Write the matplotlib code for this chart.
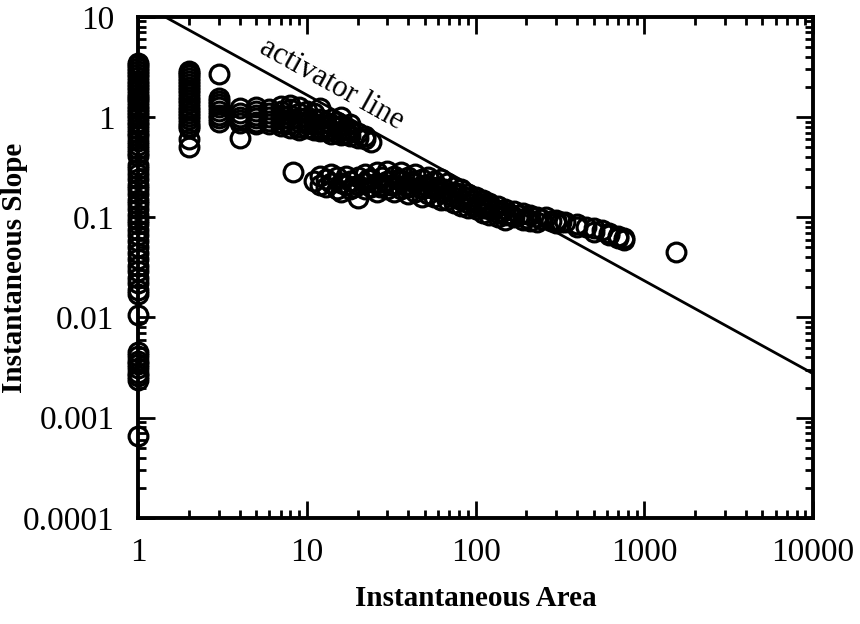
#!/usr/bin/env python3
import numpy as np
import matplotlib.pyplot as plt
from matplotlib.ticker import LogLocator, FixedLocator, FixedFormatter, NullFormatter

plt.rcParams['font.family'] = ['Liberation Serif', 'DejaVu Serif']

# ---- data (area, slope) ----
# column at area = 1
a1_slope = [3.5, 3.3, 3.1, 2.9, 2.7, 2.5, 2.3, 2.15, 2.0, 1.85, 1.7, 1.6, 1.5,
            1.4, 1.3, 1.2, 1.12, 1.05, 0.97, 0.9, 0.83, 0.76, 0.7, 0.64, 0.58,
            0.53, 0.48, 0.44, 0.41, 0.33, 0.3, 0.27, 0.24, 0.21, 0.19, 0.17,
            0.15, 0.135, 0.12, 0.105, 0.095, 0.085, 0.075, 0.066, 0.058, 0.05,
            0.044, 0.038, 0.033, 0.029, 0.025, 0.022, 0.019, 0.017, 0.0105,
            0.0045, 0.0041, 0.0037, 0.0034, 0.0031, 0.0028, 0.0026, 0.0024,
            0.00065]
# column at area = 2
a2_slope = [2.9, 2.75, 2.6, 2.45, 2.3, 2.15, 2.0, 1.85, 1.72, 1.6, 1.48, 1.37,
            1.27, 1.18, 1.1, 1.02, 0.95, 0.88, 0.82, 0.77, 0.6, 0.5]
# column at area = 3
a3_slope = [2.7, 1.55, 1.45, 1.35, 1.25, 1.15, 1.05, 0.97, 0.9]

# upper branch (area 4 .. 24)
upper_area = [4, 4, 4, 4, 4, 4,
              5, 5, 5, 5, 5, 5,
              6, 6, 6, 6, 6,
              7, 7, 7, 7, 7, 7,
              8, 8, 8, 8, 8, 8,
              9, 9, 9, 9, 9, 9,
              10, 10, 10, 10, 10,
              11, 11, 11, 11,
              12, 12, 12, 12, 12,
              13, 13, 13,
              14, 14, 14, 14,
              15, 15, 15,
              16, 16, 16, 16,
              17, 17,
              18, 18, 18,
              20, 20, 22, 22, 24]
upper_slope = [1.22, 1.1, 1.0, 0.93, 0.88, 0.62,
               1.25, 1.15, 1.05, 0.97, 0.9, 0.85,
               1.2, 1.1, 1.0, 0.92, 0.86,
               1.3, 1.15, 1.05, 0.95, 0.88, 0.82,
               1.33, 1.2, 1.05, 0.95, 0.85, 0.78,
               1.25, 1.1, 0.98, 0.9, 0.8, 0.75,
               1.15, 1.0, 0.92, 0.85, 0.78,
               1.1, 0.95, 0.85, 0.75,
               1.23, 0.95, 0.85, 0.78, 0.72,
               0.9, 0.8, 0.72,
               0.95, 0.85, 0.75, 0.68,
               0.9, 0.8, 0.7,
               1.0, 0.82, 0.72, 0.66,
               0.75, 0.68,
               0.85, 0.72, 0.64,
               0.7, 0.62, 0.65, 0.6, 0.57]

# lower branch (area 8 .. 1500)
lower_area = [8.3, 11, 12, 12, 13, 13, 14, 14, 15, 15, 16, 16, 17, 17, 18, 18,
              20, 20, 20, 22, 22, 22, 24, 24, 26, 26, 26, 28, 28, 30, 30, 30,
              33, 33, 33, 36, 36, 36, 40, 40, 40, 44, 44, 44, 48, 48, 48,
              52, 52, 52, 57, 57, 57, 62, 62, 62, 68, 68, 68, 75, 75, 75,
              82, 82, 82, 90, 90, 90, 100, 100, 100, 110, 110, 110,
              120, 120, 120, 135, 135, 135, 150, 150, 150, 170, 170,
              190, 190, 210, 210, 230, 230, 260, 300, 300, 340, 400, 400,
              450, 500, 500, 560, 620, 620, 700, 700, 760, 760, 1550,
              # extra overlapping circles that fill the band
              19, 23, 27, 31, 35, 38, 42, 46, 50, 55, 60, 65, 72, 78, 86,
              95, 105, 115, 128, 142, 160, 180, 200, 245, 280, 320]
lower_slope = [0.28, 0.23, 0.21, 0.26, 0.24, 0.2, 0.22, 0.27, 0.25, 0.19,
               0.22, 0.18, 0.26, 0.21, 0.23, 0.19,
               0.25, 0.21, 0.155, 0.27, 0.22, 0.19, 0.24, 0.2, 0.28, 0.22, 0.18,
               0.25, 0.21, 0.29, 0.23, 0.19,
               0.26, 0.21, 0.18, 0.28, 0.23, 0.19, 0.25, 0.2, 0.17,
               0.27, 0.22, 0.18, 0.24, 0.19, 0.16,
               0.25, 0.2, 0.17, 0.23, 0.19, 0.16, 0.24, 0.18, 0.15,
               0.22, 0.17, 0.15, 0.2, 0.16, 0.14,
               0.19, 0.15, 0.13, 0.17, 0.14, 0.125, 0.16, 0.13, 0.12,
               0.15, 0.125, 0.11,
               0.14, 0.12, 0.105, 0.13, 0.11, 0.1, 0.12, 0.105, 0.095,
               0.115, 0.1,
               0.11, 0.095, 0.105, 0.092, 0.1, 0.09, 0.1, 0.095, 0.088, 0.09,
               0.085, 0.08,
               0.08, 0.078, 0.072, 0.075, 0.07, 0.066, 0.065, 0.062, 0.062,
               0.06, 0.045,
               0.2, 0.24, 0.2, 0.21, 0.24, 0.21, 0.23, 0.2, 0.21, 0.2, 0.2,
               0.19, 0.18, 0.175, 0.16, 0.15, 0.14, 0.13, 0.12, 0.115, 0.108,
               0.105, 0.098, 0.096, 0.092, 0.09]

# activator line end points
line_area = [1.445, 10000]
line_slope = [10, 0.00275]

xticks = [1, 10, 100, 1000, 10000]
xtick_labels = ['1', '10', '100', '1000', '10000']
yticks = [0.0001, 0.001, 0.01, 0.1, 1, 10]
ytick_labels = ['0.0001', '0.001', '0.01', '0.1', '1', '10']

# ---- plot ----
fig = plt.figure(figsize=(8.6, 6.24), dpi=100)
ax = fig.add_axes([0.1605, 0.170, 0.785, 0.803])

area = [1] * len(a1_slope) + [2] * len(a2_slope) + [3] * len(a3_slope) + upper_area + lower_area
slope = a1_slope + a2_slope + a3_slope + upper_slope + lower_slope

ax.plot(area, slope, 'o', markersize=13.5, markerfacecolor='none',
        markeredgecolor='black', markeredgewidth=2.3, clip_on=False)
ax.plot(line_area, line_slope, '-', color='black', linewidth=2.0)

ax.set_xscale('log')
ax.set_yscale('log')
ax.set_xlim(1, 10000)
ax.set_ylim(0.0001, 10)

ax.xaxis.set_major_locator(FixedLocator(xticks))
ax.xaxis.set_major_formatter(FixedFormatter(xtick_labels))
ax.yaxis.set_major_locator(FixedLocator(yticks))
ax.yaxis.set_major_formatter(FixedFormatter(ytick_labels))
ax.xaxis.set_minor_locator(LogLocator(base=10, subs=np.arange(2, 10)))
ax.yaxis.set_minor_locator(LogLocator(base=10, subs=np.arange(2, 10)))
ax.xaxis.set_minor_formatter(NullFormatter())
ax.yaxis.set_minor_formatter(NullFormatter())

ax.tick_params(which='both', direction='in', top=True, right=True, width=2.0)
ax.tick_params(which='major', length=12, labelsize=24)
ax.tick_params(which='minor', length=6)
ax.tick_params(axis='x', which='major', pad=14)
ax.tick_params(axis='y', which='major', pad=17)
for sp in ax.spines.values():
    sp.set_linewidth(2.8)

ax.set_xlabel('Instantaneous Area', fontsize=21, fontweight='bold', labelpad=12)
ax.set_ylabel('Instantaneous Slope', fontsize=21, fontweight='bold')
ax.yaxis.set_label_coords(-0.163, 0.5)

ax.text(14.0, 2.15, 'activator line', fontsize=22, rotation=-29,
        rotation_mode='anchor', ha='center', va='center')

fig.savefig('out.png', dpi=100)
